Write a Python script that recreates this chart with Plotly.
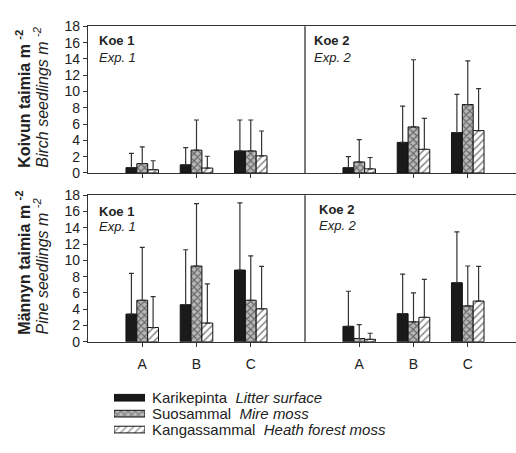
import plotly.graph_objects as go

categories = ["A", "B", "C"]
experiments = ["Koe 1", "Koe 2"]
exp_en = ["Exp. 1", "Exp. 2"]
series_fi = ["Karikepinta", "Suosammal", "Kangassammal"]
series_en = ["Litter surface", "Mire moss", "Heath forest moss"]

# Birch seedlings m-2 (means, upper SD) : Koe 1 then Koe 2
birch_litter = [0.65, 1.0, 2.7, 0.65, 3.75, 4.95]
birch_litter_sd = [1.75, 2.1, 3.8, 1.35, 4.45, 4.7]
birch_mire = [1.15, 2.8, 2.7, 1.35, 5.65, 8.4]
birch_mire_sd = [2.05, 3.7, 3.8, 2.75, 8.25, 5.35]
birch_heath = [0.4, 0.6, 2.1, 0.5, 2.9, 5.2]
birch_heath_sd = [1.1, 1.45, 3.05, 1.4, 3.8, 5.15]

# Pine seedlings m-2
pine_litter = [3.4, 4.55, 8.8, 1.9, 3.45, 7.25]
pine_litter_sd = [5.0, 6.75, 8.25, 4.3, 4.85, 6.25]
pine_mire = [5.1, 9.3, 5.1, 0.4, 2.45, 4.4]
pine_mire_sd = [6.5, 7.65, 5.45, 1.7, 3.55, 4.9]
pine_heath = [1.75, 2.3, 4.05, 0.3, 3.0, 5.0]
pine_heath_sd = [3.8, 4.8, 5.2, 0.75, 4.65, 4.25]

W, H = 516, 453
FONT = "Liberation Sans, Arial, sans-serif"
INK = "#222222"

# x positions: each experiment panel holds 4 slots, categories in slots 1..3
xpos = [4 * k + i + 1 for k in range(len(experiments)) for i in range(len(categories))]
xtext = categories * len(experiments)

styles = [
    dict(color="#1a1a1a", pattern=None),
    dict(color="#b8b8b8", pattern=dict(shape="x", fgcolor="#111111", bgcolor="#b8b8b8", size=5, solidity=0.4)),
    dict(color="white", pattern=dict(shape="/", fgcolor="#111111", bgcolor="white", size=5, solidity=0.3)),
]

fig = go.Figure()

rows = [
    ("x", "y", [birch_litter, birch_mire, birch_heath], [birch_litter_sd, birch_mire_sd, birch_heath_sd]),
    ("x2", "y2", [pine_litter, pine_mire, pine_heath], [pine_litter_sd, pine_mire_sd, pine_heath_sd]),
]
for xa, ya, vals, sds in rows:
    for j in range(3):
        marker = dict(color=styles[j]["color"], line=dict(color="#111111", width=1))
        if styles[j]["pattern"] is not None:
            marker["pattern"] = styles[j]["pattern"]
        fig.add_trace(go.Bar(
            x=xpos, y=vals[j], xaxis=xa, yaxis=ya, name=series_fi[j], showlegend=False,
            marker=marker,
            error_y=dict(type="data", array=sds[j], arrayminus=[0] * len(sds[j]), symmetric=False,
                         color="#333333", thickness=1.2, width=2.5),
            offsetgroup=str(j),
        ))

# legend swatches as a small horizontal bar chart
leg_marker_colors = [s["color"] for s in styles]
fig.add_trace(go.Bar(
    y=series_fi, x=[1, 1, 1], orientation="h", xaxis="x3", yaxis="y3", showlegend=False,
    marker=dict(color=leg_marker_colors, line=dict(color="#111111", width=1),
                pattern=dict(shape=["", "x", "/"], fgcolor="#111111",
                             bgcolor=leg_marker_colors, size=5, solidity=[0, 0.4, 0.3])),
    hoverinfo="skip", width=0.42,
))

def px_y(p):
    return 1 - p / H

def px_x(p):
    return p / W

x_dom = [px_x(88), 1.0]
xrange = [0, (W - 88) / 54.25]

axis_common = dict(showgrid=False, zeroline=False, showline=True, linecolor="#333333", linewidth=1.3,
                   ticks="outside", ticklen=4, tickcolor="#333333",
                   tickfont=dict(family=FONT, size=14, color=INK))

leg_rows = [404, 420.5, 437]
leg_step = 16.5

fig.update_layout(
    width=W, height=H, margin=dict(l=0, r=0, t=0, b=0),
    paper_bgcolor="white", plot_bgcolor="white",
    barmode="group", bargap=0.4, bargroupgap=0,
    font=dict(family=FONT, color=INK),
    xaxis=dict(domain=x_dom, range=xrange, anchor="y", tickvals=xpos, ticktext=xtext,
               showticklabels=False, mirror=True, **axis_common),
    yaxis=dict(domain=[px_y(171), px_y(19)], range=[0, 18], dtick=2, anchor="x", **axis_common),
    xaxis2=dict(domain=x_dom, range=xrange, anchor="y2", tickvals=xpos, ticktext=xtext,
                showticklabels=True, mirror=True, ticklabelstandoff=5, **axis_common),
    yaxis2=dict(domain=[px_y(346), px_y(194)], range=[0, 18], dtick=2, anchor="x2", **axis_common),
    xaxis3=dict(domain=[px_x(114), px_x(145)], range=[0, 1], visible=False, fixedrange=True),
    yaxis3=dict(domain=[px_y(leg_rows[2] + leg_step / 2), px_y(leg_rows[0] - leg_step / 2)],
                autorange="reversed", visible=False, anchor="x3"),
)

# panel dividers
for xa, ya in [("x", "y"), ("x2", "y2")]:
    fig.add_shape(type="line", xref=xa, yref=ya + " domain", x0=4, x1=4, y0=0, y1=1,
                  line=dict(color="#333333", width=1.3))

ann = []
# panel labels
panel_pos = [
    (97, 34, 51, 312, 34, 51),
    (97, 211, 227, 317, 209, 225),
]
for (x1, yk1, ye1, x2, yk2, ye2) in panel_pos:
    for k, (xx, yk, ye) in enumerate([(x1, yk1, ye1), (x2, yk2, ye2)]):
        ann.append(dict(x=px_x(xx), y=px_y(yk), xref="paper", yref="paper", xanchor="left", yanchor="middle",
                        text="<b>" + experiments[k] + "</b>", showarrow=False,
                        font=dict(family=FONT, size=13, color=INK)))
        ann.append(dict(x=px_x(xx), y=px_y(ye), xref="paper", yref="paper", xanchor="left", yanchor="middle",
                        text="<i>" + exp_en[k] + "</i>", showarrow=False,
                        font=dict(family=FONT, size=13, color=INK)))

# y axis titles
ytitles = [
    ("<b>Koivun taimia m <sup>-2</sup></b>", "<i>Birch seedlings m <sup>-2</sup></i>", 94, 93),
    ("<b>Männyn taimia m <sup>-2</sup></b>", "<i>Pine seedlings m <sup>-2</sup></i>", 264, 268),
]
for b, it, yb, yi in ytitles:
    ann.append(dict(x=px_x(23), y=px_y(yb), xref="paper", yref="paper", xanchor="center", yanchor="middle",
                    text=b, textangle=-90, showarrow=False, font=dict(family=FONT, size=16, color=INK)))
    ann.append(dict(x=px_x(41), y=px_y(yi), xref="paper", yref="paper", xanchor="center", yanchor="middle",
                    text=it, textangle=-90, showarrow=False, font=dict(family=FONT, size=16, color=INK)))

# legend labels
for j, yy in enumerate(leg_rows):
    ann.append(dict(x=px_x(151), y=px_y(yy), xref="paper", yref="paper", xanchor="left", yanchor="middle",
                    text=series_fi[j] + "  <i>" + series_en[j] + "</i>", showarrow=False, borderpad=0,
                    font=dict(family=FONT, size=15, color=INK)))

fig.update_layout(annotations=ann)
fig.write_html("out.html")
